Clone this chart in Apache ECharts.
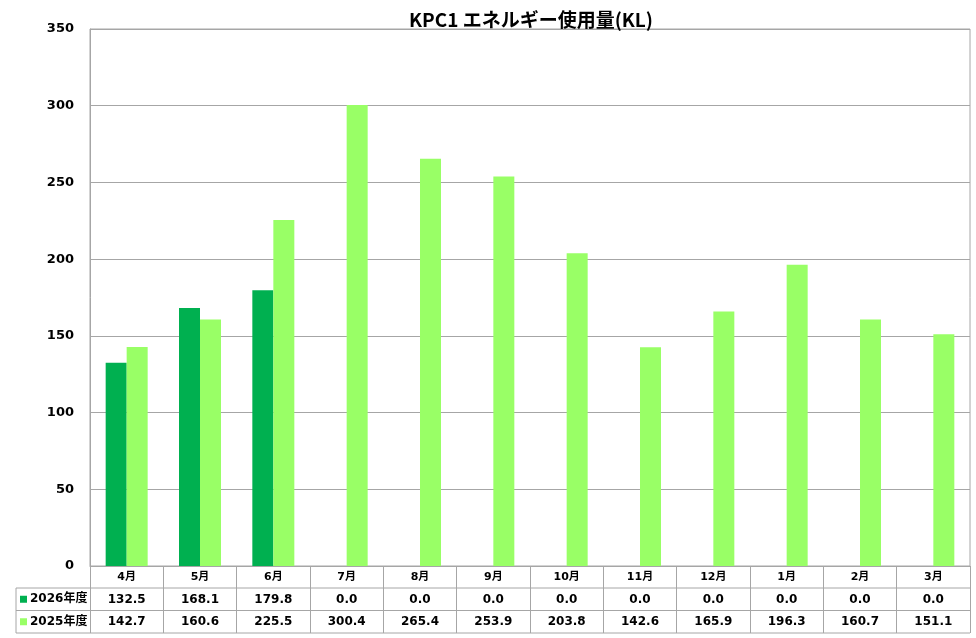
<!DOCTYPE html>
<html>
<head>
<meta charset="utf-8">
<script src="https://cdn.jsdelivr.net/npm/echarts@6/dist/echarts.min.js"></script>
<style>
  html, body { margin: 0; padding: 0; background: #fff; }
  #main { width: 976px; height: 638px; }
</style>
</head>
<body>
<div id="main"></div>
<script>
var months = ['4月', '5月', '6月', '7月', '8月', '9月', '10月', '11月', '12月', '1月', '2月', '3月'];
var fy2026 = [132.5, 168.1, 179.8, 0.0, 0.0, 0.0, 0.0, 0.0, 0.0, 0.0, 0.0, 0.0];
var fy2025 = [142.7, 160.6, 225.5, 300.4, 265.4, 253.9, 203.8, 142.6, 165.9, 196.3, 160.7, 151.1];
var seriesNames = ['2026年度', '2025年度'];
var colors = ['#00B050', '#99FF66'];

var font = '"DejaVu Sans", "Noto Sans CJK JP", sans-serif';
var jpFont = '"Noto Sans CJK JP", "Noto Sans", sans-serif';
var lineColor = '#a6a6a6';

var myChart = echarts.init(document.getElementById('main'));

// data table under the axis (lines + row headers)
var tableLeft = 16, plotLeft = 90, plotRight = 970;
var rowY = [588, 610.5, 633];
var graphics = [];
rowY.forEach(function (y) {
  graphics.push({
    type: 'line',
    shape: { x1: tableLeft, y1: y, x2: plotRight, y2: y },
    style: { stroke: lineColor, lineWidth: 1 }
  });
});
graphics.push({
  type: 'line',
  shape: { x1: tableLeft, y1: rowY[0], x2: tableLeft, y2: rowY[2] },
  style: { stroke: lineColor, lineWidth: 1 }
});
seriesNames.forEach(function (name, i) {
  var cy = (rowY[i] + rowY[i + 1]) / 2;
  graphics.push({
    type: 'rect',
    shape: { x: 20, y: cy - 3.5, width: 7, height: 7 },
    style: { fill: colors[i] }
  });
  graphics.push({
    type: 'text',
    x: 30, y: cy,
    style: {
      text: name, font: 'bold 12px ' + font, fill: '#000',
      verticalAlign: 'middle', align: 'left'
    }
  });
});

var option = {
  animation: false,
  title: {
    text: 'KPC1 エネルギー使用量(KL)',
    left: 526,
    textAlign: 'center',
    top: 5,
    textStyle: { fontFamily: jpFont, fontSize: 19, fontWeight: 'bold', color: '#000' }
  },
  grid: {
    left: plotLeft,
    right: 976 - plotRight,
    top: 29,
    bottom: 72,
    show: true,
    borderColor: lineColor,
    borderWidth: 1
  },
  xAxis: {
    type: 'category',
    data: months,
    axisLine: { lineStyle: { color: lineColor } },
    axisTick: { show: true, length: 67, lineStyle: { color: lineColor } },
    axisLabel: {
      margin: 0,
      interval: 0,
      formatter: function (value, idx) {
        return '{m|' + value + '}\n{v|' + fy2026[idx].toFixed(1) + '}\n{v|' + fy2025[idx].toFixed(1) + '}';
      },
      rich: {
        m: { fontFamily: font, fontSize: 11, fontWeight: 'bold', color: '#000', lineHeight: 22.5 },
        v: { fontFamily: font, fontSize: 12, fontWeight: 'bold', color: '#000', lineHeight: 22.5 }
      }
    }
  },
  yAxis: {
    type: 'value',
    min: 0,
    max: 350,
    interval: 50,
    axisLine: { show: true, lineStyle: { color: lineColor } },
    axisTick: { show: false },
    splitLine: { lineStyle: { color: lineColor } },
    axisLabel: {
      margin: 16,
      fontFamily: font, fontSize: 13, fontWeight: 'bold', color: '#000'
    }
  },
  series: [
    {
      name: seriesNames[0],
      type: 'bar',
      data: fy2026,
      barWidth: 21,
      barGap: '0%',
      itemStyle: { color: colors[0] }
    },
    {
      name: seriesNames[1],
      type: 'bar',
      data: fy2025,
      barWidth: 21,
      barGap: '0%',
      itemStyle: { color: colors[1] }
    }
  ],
  graphic: graphics
};

myChart.setOption(option);
window.addEventListener('resize', function () {
  myChart.resize();
});
</script>
</body>
</html>
